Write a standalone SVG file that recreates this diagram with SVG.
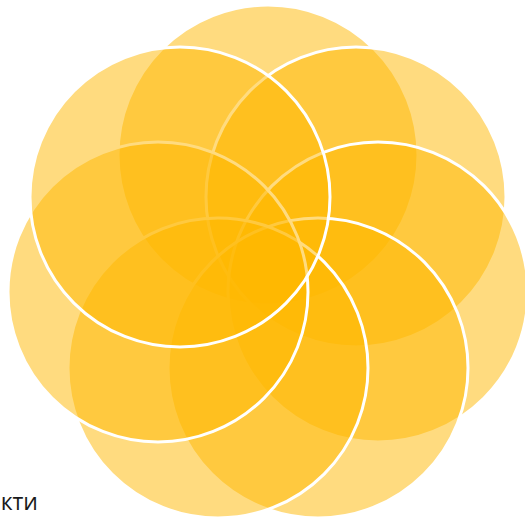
<svg xmlns="http://www.w3.org/2000/svg" width="525" height="521" viewBox="0 0 525 521">
  <style>
    .c { fill: #FFB800; fill-opacity: 0.5; stroke: #FFFFFF; stroke-width: 3; }
    .t { font-family: "Open Sans", "Liberation Sans", sans-serif; font-size: 23px; fill: #1a1a1a; }
  </style>
  <rect width="525" height="521" fill="#FFFFFF"/>
  <g id="circle-top"><circle class="c" cx="268" cy="155" r="150"/></g>
  <g id="circle-upper-right"><circle class="c" cx="356" cy="197" r="150"/></g>
  <g id="circle-right"><circle class="c" cx="378" cy="292" r="150"/></g>
  <g id="circle-bottom-right"><circle class="c" cx="318" cy="368" r="150"/></g>
  <g id="circle-bottom-left"><circle class="c" cx="218" cy="368" r="150"/></g>
  <g id="circle-left"><circle class="c" cx="158" cy="292" r="150"/></g>
  <g id="circle-upper-left"><circle class="c" cx="180" cy="197" r="150"/></g>
  <g id="connectors"></g>
  <text class="t" x="38" y="510" text-anchor="end">кти</text>
</svg>
